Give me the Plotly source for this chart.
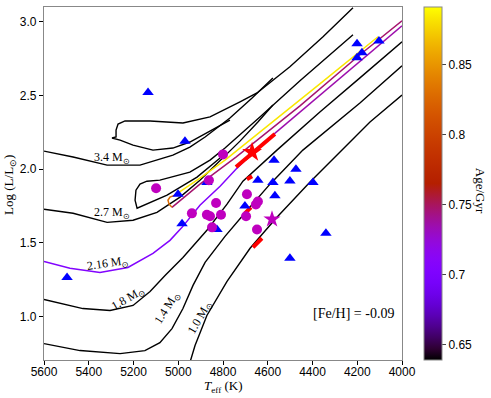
import math
import plotly.graph_objects as go

# ---- evolutionary tracks (Teff [K], log L/Lsun) ----
trk34_rgb_t = [5600, 5470, 5318, 5171, 5024, 4948, 4880, 4769, 4670, 4577]
trk34_rgb_l = [2.122, 2.082, 2.027, 2.027, 2.095, 2.150, 2.218, 2.347, 2.483, 2.619]
trk34_loop_t = [4769, 4827, 4948, 5024, 5113, 5202, 5260, 5296, 5278, 5278, 5269, 5238,
                5126, 4979, 4858, 4724, 4648, 4501, 4353, 4219]
trk34_loop_l = [2.333, 2.286, 2.184, 2.143, 2.129, 2.163, 2.197, 2.211, 2.218, 2.265, 2.306, 2.327,
                2.327, 2.313, 2.354, 2.456, 2.517, 2.694, 2.898, 3.095]

trk27_rgb_t = [5600, 5470, 5318, 5202, 5095, 4992, 4903, 4813, 4724, 4644, 4577]
trk27_rgb_l = [1.728, 1.701, 1.639, 1.653, 1.707, 1.810, 1.925, 2.061, 2.190, 2.320, 2.435]
trk27_loop_t = [4813, 4916, 5050, 5149, 5184, 5193, 5189, 5171, 5140, 5082, 4948, 4858, 4791,
                4635, 4456, 4219]
trk27_loop_l = [2.075, 1.946, 1.823, 1.755, 1.735, 1.789, 1.857, 1.898, 1.918, 1.925, 1.980, 2.061, 2.143,
                2.354, 2.599, 2.912]

trk18_t = [5600, 5426, 5305, 5202, 5126, 5059, 4979, 4872, 4782, 4711, 4559, 4367, 4188, 4000]
trk18_l = [1.116, 1.054, 1.041, 1.075, 1.170, 1.279, 1.401, 1.585, 1.762, 1.918, 2.129, 2.388, 2.619, 2.864]

trk14_t = [5600, 5439, 5260, 5149, 5082, 5028, 4979, 4934, 4880, 4791, 4688, 4590, 4443, 4188, 4000]
trk14_l = [0.816, 0.769, 0.748, 0.769, 0.823, 0.918, 1.054, 1.211, 1.367, 1.544, 1.728, 1.898, 2.129, 2.449, 2.701]

trk10_t = [4952, 4925, 4872, 4782, 4679, 4559, 4411, 4291, 4143, 4000]
trk10_l = [0.667, 0.803, 1.007, 1.238, 1.463, 1.673, 1.912, 2.095, 2.320, 2.503]

# 2.16 Msun track, split into phases coloured by age (Gyr)
ms216_t = [5600, 5484, 5350, 5225, 5113, 5037, 4983, 4903, 4813, 4737, 4657]
ms216_l = [1.374, 1.327, 1.299, 1.333, 1.429, 1.517, 1.605, 1.755, 1.884, 2.007, 2.129]
rgb216_t = [4657, 4577, 4456, 4188, 4000]
rgb216_l = [2.129, 2.231, 2.388, 2.727, 2.973]
desc216_t = [4000, 4188, 4456, 4590, 4742, 4903, 5028]
desc216_l = [3.007, 2.776, 2.429, 2.265, 2.082, 1.898, 1.741]
hook216_t = [5028, 5041, 5046, 5037, 5015]
hook216_l = [1.741, 1.762, 1.789, 1.810, 1.823]
agb216_t = [5015, 4948, 4903, 4791, 4679, 4559, 4367, 4107]
agb216_l = [1.823, 1.891, 1.939, 2.061, 2.197, 2.340, 2.578, 2.898]
phase_ages = [0.705, 0.735, 0.747, 0.828, 0.883]

# red segments
red_seg_t = [[4742, 4568], [4693, 4670], [4702, 4675], [4666, 4626]]
red_seg_l = [[2.014, 2.238], [1.932, 1.952], [1.700, 1.741], [1.469, 1.531]]

# observed stars
tri_t = [5135, 4970, 5001, 4872, 4572, 4644, 4577, 4568, 4702, 4983, 4827, 4474, 4501, 4398,
         4340, 4501, 4201, 4179, 4201, 4103, 5497]
tri_l = [2.52, 2.19, 1.83, 1.91, 2.06, 1.925, 1.91, 1.82, 1.75, 1.63, 1.59, 2.00, 1.92, 1.91,
         1.565, 1.395, 2.85, 2.79, 2.755, 2.87, 1.265]
circ_t = [4800, 5099, 4863, 4693, 4644, 4653, 4831, 4939, 4872, 4858, 4809, 4697, 4849, 4648]
circ_l = [2.10, 1.87, 1.925, 1.83, 1.78, 1.76, 1.77, 1.70, 1.69, 1.68, 1.69, 1.68, 1.605, 1.59]
red_star = (4670, 2.115)
mag_star = (4581, 1.66)

mass_labels = ["3.4 M<sub>⊙</sub>", "2.7 M<sub>⊙</sub>", "2.16 M<sub>⊙</sub>",
               "1.8 M<sub>⊙</sub>", "1.4 M<sub>⊙</sub>", "1.0 M<sub>⊙</sub>"]
label_t = [5296, 5296, 5314, 5225, 5050, 4903]
label_l = [2.075, 1.701, 1.354, 1.122, 1.061, 0.993]
label_ang = [0, 0, -8, -30, -58, -60]

age_min, age_max = 0.639, 0.891
cbar_ticks = [0.65, 0.7, 0.75, 0.8, 0.85]


def gnuplot(v):
    x = min(max((v - age_min) / (age_max - age_min), 0), 1)
    r = math.sqrt(x)
    g = x ** 3
    b = max(math.sin(2 * math.pi * x), 0)
    return f"rgb({int(r * 255)},{int(g * 255)},{int(b * 255)})"


gnuplot_scale = []
for i in range(33):
    f = i / 32
    gnuplot_scale.append([f, gnuplot(age_min + f * (age_max - age_min))])

serif = "Liberation Serif, Times New Roman, serif"
sans = "Liberation Sans, Arial, sans-serif"

fig = go.Figure()

for t, l in [(trk34_rgb_t, trk34_rgb_l), (trk34_loop_t, trk34_loop_l),
             (trk27_rgb_t, trk27_rgb_l), (trk27_loop_t, trk27_loop_l),
             (trk18_t, trk18_l), (trk14_t, trk14_l), (trk10_t, trk10_l)]:
    fig.add_trace(go.Scatter(x=t, y=l, mode="lines", line=dict(color="black", width=1.4),
                             hoverinfo="skip"))

phases = [(ms216_t, ms216_l), (rgb216_t, rgb216_l), (desc216_t, desc216_l),
          (hook216_t, hook216_l), (agb216_t, agb216_l)]
for (t, l), age in zip(phases, phase_ages):
    fig.add_trace(go.Scatter(x=t, y=l, mode="lines", line=dict(color=gnuplot(age), width=1.5)))

for t, l in zip(red_seg_t, red_seg_l):
    fig.add_trace(go.Scatter(x=t, y=l, mode="lines", line=dict(color="red", width=4)))

fig.add_trace(go.Scatter(x=tri_t, y=tri_l, mode="markers",
                         marker=dict(symbol="triangle-up", color="blue", size=10)))
fig.add_trace(go.Scatter(x=circ_t, y=circ_l, mode="markers",
                         marker=dict(symbol="circle", color="#bf00bf", size=10)))
fig.add_trace(go.Scatter(x=[mag_star[0]], y=[mag_star[1]], mode="markers",
                         marker=dict(symbol="star", color="#bf00bf", size=13)))
fig.add_trace(go.Scatter(x=[red_star[0]], y=[red_star[1]], mode="markers",
                         marker=dict(symbol="star", color="red", size=15)))

# colour bar only
fig.add_trace(go.Scatter(
    x=[None], y=[None], mode="markers",
    marker=dict(color=[age_min], colorscale=gnuplot_scale, cmin=age_min, cmax=age_max,
                showscale=True,
                colorbar=dict(x=1.0615, xanchor="left", xpad=0, y=0.5, ypad=0, len=1.0,
                              thickness=18, outlinecolor="#888", outlinewidth=1,
                              tickvals=cbar_ticks, ticktext=["0.65", "0.7", "0.75", "0.8", "0.85"],
                              ticks="outside", ticklen=4,
                              tickfont=dict(family=sans, size=12, color="black")))))

for txt, t, l, a in zip(mass_labels, label_t, label_l, label_ang):
    fig.add_annotation(x=t, y=l, text=txt, showarrow=False, textangle=a,
                       font=dict(family=serif, size=12, color="black"))
fig.add_annotation(x=4219, y=1.02, text="[Fe/H] = -0.09", showarrow=False,
                   font=dict(family=serif, size=14, color="black"))

# axis and colour bar titles
fig.add_annotation(xref="paper", yref="paper", x=0.5, y=-0.076, yanchor="middle",
                   text="<i>T</i><sub>eff</sub> (K)", showarrow=False,
                   font=dict(family=serif, size=13, color="black"))
fig.add_annotation(xref="paper", yref="paper", x=-0.095, y=0.496, xanchor="center",
                   text="Log (L/L<sub>⊙</sub>)", showarrow=False, textangle=-90,
                   font=dict(family=serif, size=13, color="black"))
fig.add_annotation(xref="paper", yref="paper", x=1.22, y=0.48, xanchor="center",
                   text="Age/Gyr", showarrow=False, textangle=90,
                   font=dict(family=serif, size=13, color="black"))

fig.update_xaxes(range=[5600, 4000], tickvals=list(range(5600, 3999, -200)),
                 ticks="outside", ticklen=4, tickcolor="black", automargin=False,
                 ticklabelstandoff=-4,
                 showline=True, mirror=True, linecolor="#888", linewidth=1.3,
                 showgrid=False, zeroline=False,
                 tickfont=dict(family=sans, size=12, color="black"))
fig.update_yaxes(range=[0.705, 3.10], tickvals=[1.0, 1.5, 2.0, 2.5, 3.0],
                 ticktext=["1.0", "1.5", "2.0", "2.5", "3.0"],
                 ticks="outside", ticklen=4, tickcolor="black", automargin=False,
                 showline=True, mirror=True, linecolor="#888", linewidth=1.3,
                 showgrid=False, zeroline=False,
                 tickfont=dict(family=sans, size=12, color="black"))

fig.update_layout(width=491, height=398, margin=dict(l=44, r=89, t=7, b=38, autoexpand=False),
                  plot_bgcolor="white", paper_bgcolor="white", showlegend=False)

# drop the browser's default 8 px body margin so the figure sits at the page corner
fig.write_html("out.html", config={"displayModeBar": False},
               post_script="document.body.style.margin = '0';")
